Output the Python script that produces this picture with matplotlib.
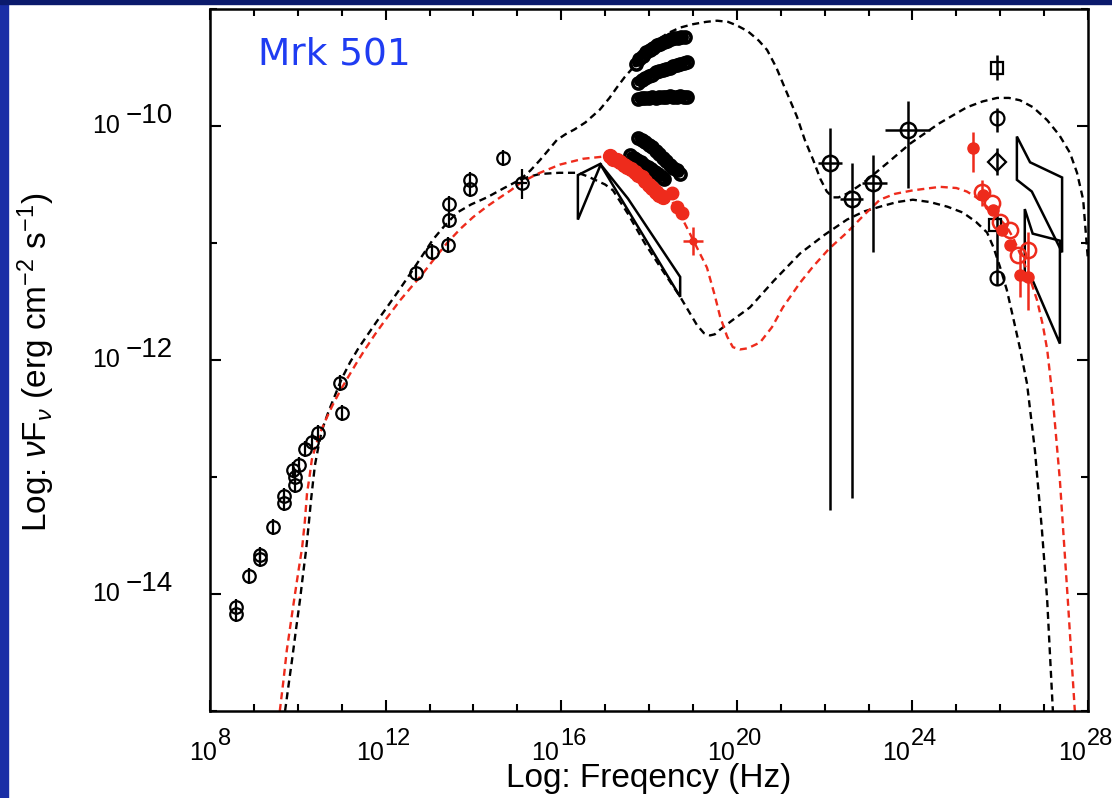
import numpy as np
import matplotlib.pyplot as plt
import matplotlib.transforms as mtransforms
from matplotlib.patches import Polygon, Rectangle
from matplotlib.ticker import NullFormatter

plt.rcParams['font.family'] = ['Liberation Sans', 'DejaVu Sans']
plt.rcParams['mathtext.fontset'] = 'custom'
plt.rcParams['mathtext.rm'] = 'Liberation Sans'
plt.rcParams['mathtext.it'] = 'Liberation Sans:italic'

RED = '#ee2b1c'

# ---- data, all as log10(nu) / log10(nu F_nu) ----
# model curves
low_x = [9.71, 9.80, 9.87, 9.96, 10.05, 10.12, 10.19, 10.25, 10.30, 10.35, 10.39, 10.47, 10.55,
         10.70, 10.85, 11.00, 11.19, 11.38, 11.58, 11.80, 12.03, 12.33, 12.62, 12.85, 13.08,
         13.35, 13.63, 13.95, 14.31, 14.70, 15.06, 15.30, 15.52, 15.95, 16.38, 16.60, 16.77,
         17.00, 17.18, 17.52, 17.90, 18.30, 18.71, 18.90, 19.09, 19.25, 19.39, 19.50, 19.62,
         19.90, 20.30, 20.85, 21.44, 22.00, 22.51, 22.90, 23.26, 23.65, 24.01, 24.40, 24.80,
         25.15, 25.45, 25.70, 25.85, 26.00, 26.15, 26.29, 26.45, 26.61, 26.79, 26.95, 27.07, 27.20]
low_y = [-15.0, -14.75, -14.56, -14.30, -14.05, -13.83, -13.62, -13.40, -13.20, -13.03, -12.90,
         -12.74, -12.60, -12.44, -12.30, -12.16, -12.02, -11.90, -11.79, -11.67, -11.55, -11.39,
         -11.23, -11.10, -10.97, -10.85, -10.74, -10.67, -10.61, -10.53, -10.46, -10.43, -10.41,
         -10.40, -10.40, -10.43, -10.46, -10.50, -10.55, -10.75, -11.00, -11.23, -11.46, -11.58,
         -11.70, -11.77, -11.79, -11.78, -11.74, -11.66, -11.55, -11.32, -11.09, -10.93, -10.80,
         -10.73, -10.69, -10.65, -10.63, -10.65, -10.69, -10.74, -10.82, -10.91, -11.04, -11.21,
         -11.40, -11.63, -11.90, -12.20, -12.77, -13.45, -14.05, -15.0]

high_x = [15.06, 15.30, 15.52, 15.70, 15.90, 16.10, 16.30, 16.55, 16.88, 17.10, 17.27, 17.45,
          17.64, 17.90, 18.15, 18.41, 18.70, 19.00, 19.30, 19.55, 19.80, 20.00, 20.25, 20.50,
          20.69, 20.90, 21.10, 21.37, 21.55, 21.74, 21.90, 22.05, 22.19, 22.32, 22.50, 22.75,
          22.97, 23.45, 23.95, 24.60, 25.24, 25.60, 25.93, 26.20, 26.45, 26.75, 27.07, 27.35,
          27.59, 27.75, 27.89, 28.0]
high_y = [-10.46, -10.38, -10.29, -10.21, -10.12, -10.07, -10.03, -9.97, -9.86, -9.76, -9.67,
          -9.58, -9.50, -9.38, -9.28, -9.21, -9.16, -9.13, -9.11, -9.10, -9.11, -9.14, -9.19,
          -9.27, -9.35, -9.50, -9.68, -9.92, -10.12, -10.29, -10.45, -10.56, -10.61, -10.61,
          -10.58, -10.52, -10.46, -10.31, -10.15, -9.98, -9.84, -9.79, -9.76, -9.76, -9.78,
          -9.84, -9.95, -10.08, -10.23, -10.40, -10.63, -11.15]

red_x = [9.59, 9.67, 9.75, 9.85, 9.94, 10.02, 10.10, 10.16, 10.21, 10.27, 10.32, 10.41, 10.51,
         10.65, 10.80, 10.97, 11.14, 11.33, 11.53, 11.76, 11.99, 12.33, 12.60, 12.85, 13.12,
         13.40, 13.70, 13.99, 14.30, 14.61, 14.85, 15.06, 15.45, 15.97, 16.50, 17.00, 17.30,
         17.64, 18.00, 18.41, 18.77, 19.00, 19.32, 19.50, 19.62, 19.78, 19.91, 20.07, 20.25,
         20.53, 20.80, 21.05, 21.44, 21.74, 22.10, 22.51, 22.90, 23.26, 23.60, 24.01, 24.63,
         25.00, 25.24, 25.50, 25.70, 25.95, 26.15, 26.30, 26.45, 26.65, 26.84, 26.97, 27.07,
         27.20, 27.36, 27.54, 27.70]
red_y = [-15.0, -14.75, -14.48, -14.22, -13.99, -13.79, -13.60, -13.38, -13.14, -12.99, -12.85,
         -12.73, -12.62, -12.50, -12.38, -12.26, -12.15, -12.03, -11.91, -11.78, -11.66, -11.49,
         -11.37, -11.26, -11.13, -11.00, -10.88, -10.78, -10.69, -10.61, -10.55, -10.49, -10.41,
         -10.33, -10.28, -10.26, -10.29, -10.35, -10.45, -10.57, -10.80, -10.97, -11.21, -11.45,
         -11.63, -11.80, -11.89, -11.91, -11.90, -11.85, -11.72, -11.55, -11.34, -11.20, -11.05,
         -10.91, -10.76, -10.63, -10.58, -10.55, -10.52, -10.53, -10.56, -10.62, -10.69, -10.78,
         -10.86, -10.96, -11.09, -11.27, -11.49, -11.70, -11.91, -12.34, -13.03, -14.05, -15.0]

# radio / IR / optical archival points
arch_x = [8.59, 8.59, 8.89, 9.14, 9.14, 9.44, 9.69, 9.69, 9.89, 9.94, 9.94, 10.03, 10.16,
          10.32, 10.46, 10.96, 11.00, 12.69, 13.06, 13.42, 13.44, 13.44, 13.92, 13.92, 14.67]
arch_y = [-14.11, -14.17, -13.85, -13.67, -13.70, -13.43, -13.16, -13.22, -12.94, -13.00,
          -13.07, -12.90, -12.76, -12.70, -12.62, -12.20, -12.45, -11.26, -11.08, -11.02,
          -10.80, -10.67, -10.46, -10.54, -10.27]
opt_x, opt_y = [15.11], [-10.49]
opt_ylo, opt_yhi = [-10.62], [-10.37]
opt_xlo, opt_xhi = [15.00], [15.22]

# X-ray spectra (high states, black)
xr1_x = [17.70, 17.78, 17.86, 17.94, 18.02, 18.10, 18.18, 18.26, 18.34, 18.42, 18.50, 18.58, 18.66, 18.74, 18.82]
xr1_y = [-9.47, -9.43, -9.40, -9.37, -9.35, -9.33, -9.31, -9.30, -9.28, -9.27, -9.26, -9.25, -9.25, -9.24, -9.24]
xr2_x = [17.75, 17.83, 17.91, 17.99, 18.07, 18.15, 18.23, 18.31, 18.39, 18.47, 18.55, 18.63, 18.71, 18.79, 18.87]
xr2_y = [-9.63, -9.61, -9.59, -9.57, -9.56, -9.54, -9.53, -9.52, -9.51, -9.50, -9.49, -9.48, -9.47, -9.46, -9.45]
xr3_x = [17.75, 17.83, 17.91, 17.99, 18.07, 18.15, 18.23, 18.31, 18.39, 18.47, 18.55, 18.63, 18.71, 18.79, 18.87]
xr3_y = [-9.77, -9.76, -9.76, -9.76, -9.75, -9.76, -9.75, -9.75, -9.75, -9.74, -9.75, -9.75, -9.74, -9.75, -9.75]
xr4_x = [17.75, 17.83, 17.91, 17.99, 18.07, 18.15, 18.23, 18.31, 18.39, 18.47, 18.55, 18.63, 18.71]
xr4_y = [-10.10, -10.12, -10.14, -10.16, -10.18, -10.21, -10.24, -10.27, -10.30, -10.33, -10.36, -10.38, -10.41]
xr5_x = [17.57, 17.65, 17.73, 17.81, 17.89, 17.97, 18.05, 18.13, 18.21, 18.29, 18.35]
xr5_y = [-10.25, -10.27, -10.29, -10.31, -10.33, -10.35, -10.37, -10.39, -10.41, -10.44, -10.45]

# X-ray spectrum (red state)
xred_x = [17.11, 17.19, 17.27, 17.35, 17.43, 17.51, 17.59, 17.67, 17.75, 17.83, 17.91, 17.99,
          18.07, 18.15, 18.23, 18.31, 18.52, 18.64, 18.75]
xred_y = [-10.26, -10.28, -10.29, -10.31, -10.33, -10.35, -10.37, -10.39, -10.42, -10.44, -10.47,
          -10.50, -10.53, -10.56, -10.59, -10.61, -10.57, -10.69, -10.74]
xcross_x, xcross_y = [19.00], [-10.98]
xcross_xlo, xcross_xhi = [18.78], [19.22]
xcross_ylo, xcross_yhi = [-11.10], [-10.86]

# bow-ties (optical/UV and X-ray)
uv_bow = [(16.38, -10.42), (16.38, -10.80), (16.91, -10.32)]
xr_bow = [(16.88, -10.32), (18.71, -11.46), (18.71, -11.29), (17.52, -10.62)]

# GeV points
gev_x = [22.12, 22.62, 23.10, 23.90]
gev_y = [-10.32, -10.62, -10.49, -10.03]
gev_xlo = [21.85, 22.35, 22.85, 23.38]
gev_xhi = [22.40, 22.87, 23.42, 24.40]
gev_ylo = [-13.28, -13.18, -11.08, -10.53]
gev_yhi = [-10.02, -10.32, -10.25, -9.79]

# TeV points (black archival)
tev_sq_x, tev_sq_y = [25.93, 25.88], [-9.50, -10.85]
tev_ci_x, tev_ci_y = [25.93, 25.93], [-9.93, -11.30]
tev_di_x, tev_di_y = [25.93], [-10.31]
tev_bar_x = [25.93, 25.93, 25.93, 25.93]
tev_bar_lo = [-9.61, -10.05, -10.42, -11.36]
tev_bar_hi = [-9.39, -9.85, -10.19, -10.74]

# TeV points (red state)
tred_open_x = [25.59, 25.81, 26.00, 26.22, 26.41, 26.63]
tred_open_y = [-10.56, -10.66, -10.82, -10.89, -11.10, -11.06]
tred_fill_x = [25.38, 25.61, 25.83, 26.04, 26.22, 26.45, 26.63]
tred_fill_y = [-10.19, -10.59, -10.72, -10.89, -11.02, -11.27, -11.29]
tred_bar_x = [25.38, 25.59, 26.45, 26.63]
tred_bar_lo = [-10.39, -10.68, -11.46, -11.57]
tred_bar_hi = [-10.05, -10.46, -11.10, -10.91]

# TeV bow-ties
tev_bow1 = [(26.38, -10.09), (26.68, -10.31), (27.41, -10.44), (27.41, -11.08), (26.72, -10.56), (26.38, -10.46)]
tev_bow2 = [(26.56, -10.71), (26.74, -10.92), (27.36, -10.98), (27.36, -11.86), (26.74, -11.32), (26.56, -11.32)]

xtick_exp = [8, 12, 16, 20, 24, 28]
ytick_exp = [-10, -12, -14]


def P(a):
    return 10.0 ** np.asarray(a, dtype=float)


def errs(v, lo, hi):
    v, lo, hi = P(v), P(lo), P(hi)
    return [v - lo, hi - v]


fig = plt.figure(figsize=(11.12, 7.98), dpi=100, facecolor='white')
fig.add_artist(Rectangle((0, 0), 8 / 1112, 1, transform=fig.transFigure, color='#1a2ea6', zorder=-5))
fig.add_artist(Rectangle((0, 1 - 4 / 798), 1, 4 / 798, transform=fig.transFigure, color='#0b1a6c', zorder=-5))
ax = fig.add_axes([210 / 1112, 1 - 711 / 798, 878 / 1112, 702 / 798])
ax.set_xscale('log')
ax.set_yscale('log')
ax.set_xlim(1e8, 1e28)
ax.set_ylim(1e-15, 1e-9)

dash = dict(lw=1.7, ls=(0, (3, 2)))
ax.plot(P(low_x), P(low_y), color='k', **dash)
ax.plot(P(high_x), P(high_y), color='k', **dash)
ax.plot(P(red_x), P(red_y), color=RED, **dash)

mk = dict(ls='none', mfc='none', mec='k', mew=1.6)
ax.plot(P(arch_x), P(arch_y), marker='o', ms=9, **mk)
ax.plot(P(arch_x), P(arch_y), marker='|', ms=12, **mk)
ax.errorbar(P(opt_x), P(opt_y), yerr=errs(opt_y, opt_ylo, opt_yhi), xerr=errs(opt_x, opt_xlo, opt_xhi),
            fmt='o', ms=9, mfc='none', mec='k', mew=1.6, ecolor='k', elinewidth=1.6)

for bx, by in [(xr1_x, xr1_y), (xr2_x, xr2_y), (xr3_x, xr3_y), (xr4_x, xr4_y), (xr5_x, xr5_y)]:
    ax.plot(P(bx), P(by), marker='o', ms=8, mew=2.6, lw=5, color='k', mfc='none', mec='k',
            solid_capstyle='round')
ax.plot(P(xred_x[:16]), P(xred_y[:16]), marker='o', ms=10, lw=8, color=RED, solid_capstyle='round')
ax.plot(P(xred_x[16:]), P(xred_y[16:]), marker='o', ms=9, ls='none', color=RED)
ax.errorbar(P(xcross_x), P(xcross_y), xerr=errs(xcross_x, xcross_xlo, xcross_xhi),
            yerr=errs(xcross_y, xcross_ylo, xcross_yhi), fmt='o', ms=5, color=RED, elinewidth=1.8)

for poly in (uv_bow, xr_bow, tev_bow1, tev_bow2):
    ax.add_patch(Polygon([(10 ** a, 10 ** b) for a, b in poly], closed=True, fill=False,
                         ec='k', lw=1.8))

ax.errorbar(P(gev_x), P(gev_y), xerr=errs(gev_x, gev_xlo, gev_xhi), yerr=errs(gev_y, gev_ylo, gev_yhi),
            fmt='o', ms=11, mfc='none', mec='k', mew=1.8, ecolor='k', elinewidth=1.8)

ax.vlines(P(tev_bar_x), P(tev_bar_lo), P(tev_bar_hi), color='k', lw=1.8)
ax.plot(P(tev_sq_x), P(tev_sq_y), marker='s', ms=9, **mk)
ax.plot(P(tev_ci_x), P(tev_ci_y), marker='o', ms=10, **mk)
ax.plot(P(tev_di_x), P(tev_di_y), marker='D', ms=9, **mk)

ax.vlines(P(tred_bar_x), P(tred_bar_lo), P(tred_bar_hi), color=RED, lw=1.8)
ax.plot(P(tred_open_x), P(tred_open_y), marker='o', ms=11, ls='none', mfc='none', mec=RED, mew=1.8)
ax.plot(P(tred_fill_x), P(tred_fill_y), marker='o', ms=8, ls='none', color=RED)

# axes cosmetics
for s in ax.spines.values():
    s.set_linewidth(1.8)
ax.set_xticks(P(xtick_exp))
ax.set_xticks(P(range(8, 29)), minor=True)
ax.set_yticks(P(ytick_exp))
ax.set_yticks(P(range(-15, -8)), minor=True)
for a in (ax.xaxis, ax.yaxis):
    a.set_major_formatter(NullFormatter())
    a.set_minor_formatter(NullFormatter())
ax.tick_params(which='both', direction='in', top=True, right=True, width=1.5)
ax.tick_params(which='major', length=8)
ax.tick_params(which='minor', length=5)

# tick labels drawn as "10" plus a large raised exponent, like the original plot
tx = mtransforms.blended_transform_factory(ax.transData, ax.transAxes)
for e in xtick_exp:
    dx = 5 if e < 10 else -1.5
    ax.annotate('10', (10.0 ** e, 0), xycoords=tx, xytext=(dx, -30), textcoords='offset points',
                ha='right', va='center', fontsize=18)
    ax.annotate(str(e), (10.0 ** e, 0), xycoords=tx, xytext=(dx + 0.5, -20), textcoords='offset points',
                ha='left', va='center', fontsize=17)
ty = mtransforms.blended_transform_factory(ax.transAxes, ax.transData)
for e in ytick_exp:
    ax.annotate('10', (0, 10.0 ** e), xycoords=ty, xytext=(-65, 0), textcoords='offset points',
                ha='right', va='center', fontsize=18)
    ax.annotate('\u2212' + str(-e), (0, 10.0 ** e), xycoords=ty, xytext=(-61, 7), textcoords='offset points',
                ha='left', va='center', fontsize=20)

ax.text(0.055, 0.935, 'Mrk 501', transform=ax.transAxes, color='#1f3cf2', fontsize=27,
        family='DejaVu Sans', va='center', ha='left')
fig.text(649 / 1112, 1 - 779 / 798, 'Log: Freqency (Hz)', ha='center', va='center', fontsize=24)
fig.text(36 / 1112, 1 - 362 / 798, r'Log: $\nu$F$_\nu$ (erg cm$^{-2}$ s$^{-1}$)', ha='center', va='center',
         rotation=90, fontsize=24)

fig.savefig('out.png', dpi=100)
